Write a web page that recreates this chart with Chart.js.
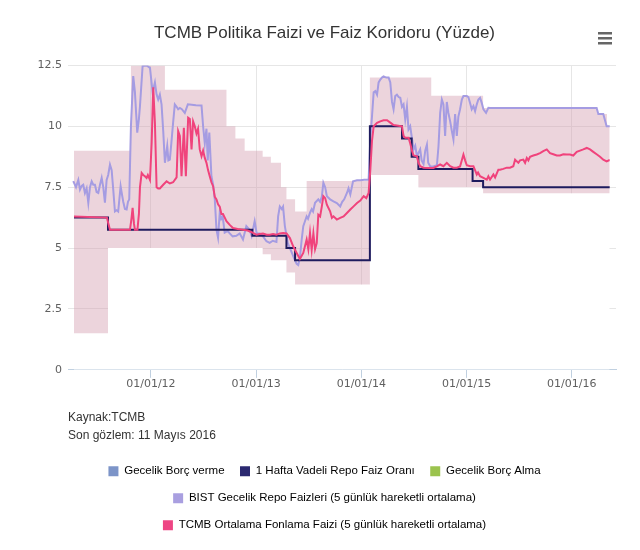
<!DOCTYPE html>
<html>
<head>
<meta charset="utf-8">
<script src="https://cdn.jsdelivr.net/npm/chart.js@4.4.0/dist/chart.umd.min.js"></script>
<style>
  html, body { margin:0; padding:0; background:#fff; }
</style>
</head>
<body>
<canvas id="faizChart" width="640" height="550"></canvas>
<script>
// tarihler ondalik yil olarak (2012.0 = 01/01/12)
const yearTicks = [2012, 2013, 2014, 2015, 2016];
const yTicks = [0, 2.5, 5, 7.5, 10, 12.5];

// Gecelik borc verme (koridor ust bandi) - degisim tarihleri
const borcVermeDates = [2011.269, 2011.810, 2012.133, 2012.718, 2012.803, 2012.891, 2013.062, 2013.140, 2013.236, 2013.288, 2013.370, 2013.480, 2014.081, 2014.664, 2015.157, 2016.239, 2016.334, 2016.360];
const borcVermeValues = [9, 12.5, 11.5, 10, 9.5, 9, 8.75, 8.5, 7.5, 7, 6.5, 7.75, 12, 11.25, 10.75, 10.5, 10, 10];

// 1 hafta vadeli repo (politika faizi)
const repoDates = [2011.269, 2011.592, 2012.964, 2013.288, 2013.370, 2014.081, 2014.386, 2014.478, 2014.542, 2015.057, 2015.157, 2016.360];
const repoValues = [6.25, 5.75, 5.5, 5, 4.5, 10, 9.5, 8.75, 8.25, 7.75, 7.5, 7.5];

// Gecelik borc alma (koridor alt bandi)
const borcAlmaDates = [2011.269, 2011.592, 2013.062, 2013.140, 2013.288, 2013.370, 2014.081, 2014.542, 2015.157, 2016.360];
const borcAlmaValues = [1.5, 5, 4.75, 4.5, 4, 3.5, 8, 7.5, 7.25, 7.25];

// BIST gecelik repo (5 gunluk ort.)
const bistDates = [2011.262, 2011.288, 2011.310, 2011.326, 2011.342, 2011.357, 2011.373, 2011.389, 2011.405, 2011.421, 2011.437, 2011.452, 2011.468, 2011.484, 2011.500, 2011.516, 2011.532, 2011.547, 2011.563, 2011.579, 2011.594, 2011.611, 2011.627, 2011.642, 2011.658, 2011.674, 2011.689, 2011.712, 2011.725, 2011.737, 2011.753, 2011.769, 2011.782, 2011.794, 2011.810, 2011.832, 2011.848, 2011.860, 2011.870, 2011.886, 2011.896, 2011.921, 2011.959, 2011.991,
  2012.016, 2012.038, 2012.054, 2012.069, 2012.085, 2012.101, 2012.117, 2012.133, 2012.155, 2012.166, 2012.180, 2012.194, 2012.211, 2012.227, 2012.244, 2012.259, 2012.275, 2012.294, 2012.322, 2012.351, 2012.389, 2012.427, 2012.481, 2012.496, 2012.512, 2012.528, 2012.540, 2012.555, 2012.575, 2012.591, 2012.607, 2012.623, 2012.638, 2012.654, 2012.668, 2012.682, 2012.701, 2012.730, 2012.749, 2012.777, 2012.812, 2012.844, 2012.875, 2012.907, 2012.938, 2012.957, 2012.986,
  2013.005, 2013.033, 2013.062, 2013.098, 2013.129, 2013.158, 2013.193, 2013.209, 2013.225, 2013.244, 2013.256, 2013.273, 2013.289, 2013.301, 2013.321, 2013.340, 2013.359, 2013.385, 2013.400, 2013.416, 2013.433, 2013.448, 2013.464, 2013.480, 2013.493, 2013.512, 2013.528, 2013.541, 2013.560, 2013.591, 2013.608, 2013.624, 2013.639, 2013.656, 2013.672, 2013.703, 2013.735, 2013.767, 2013.799, 2013.818, 2013.837, 2013.863, 2013.878, 2013.895, 2013.921, 2013.959, 2013.990,
  2014.028, 2014.069, 2014.085, 2014.101, 2014.117, 2014.133, 2014.149, 2014.164, 2014.180, 2014.196, 2014.211, 2014.237, 2014.259, 2014.275, 2014.291, 2014.306, 2014.322, 2014.338, 2014.354, 2014.370, 2014.386, 2014.401, 2014.417, 2014.433, 2014.448, 2014.464, 2014.481, 2014.496, 2014.512, 2014.528, 2014.543, 2014.559, 2014.573, 2014.591, 2014.607, 2014.623, 2014.635, 2014.654, 2014.685, 2014.718, 2014.733, 2014.749, 2014.765, 2014.780, 2014.796, 2014.812, 2014.827, 2014.844, 2014.860, 2014.875, 2014.891, 2014.907, 2014.922, 2014.938, 2014.955, 2014.970,
  2015.002, 2015.017, 2015.033, 2015.049, 2015.065, 2015.081, 2015.097, 2015.112, 2015.128, 2015.144, 2015.160, 2015.185, 2015.207, 2015.223, 2016.236, 2016.252, 2016.299, 2016.331, 2016.360];
const bistValues = [7.75, 7.5, 7.8, 7.4, 7.55, 7.6, 7.26, 7.45, 6.85, 7.5, 7.74, 7.6, 7.6, 7.3, 7.26, 7.6, 7.88, 7.5, 6.86, 7.8, 8.0, 8.43, 8.2, 7.4, 6.5, 6.55, 6.5, 7.54, 7.2, 6.9, 6.6, 6.58, 6.9, 7.0, 10.0, 12.06, 11.4, 10.5, 9.74, 10.3, 10.83, 12.47, 12.5, 12.4,
  11.4, 11.8, 11.3, 11.1, 11.3, 10.9, 9.8, 8.5, 9.2, 8.6, 8.63, 9.3, 10.15, 10.9, 10.8, 10.7, 10.75, 10.7, 10.55, 10.9, 10.88, 10.86, 10.85, 10.0, 9.3, 9.9, 8.6, 9.74, 7.95, 7.6, 7.0, 5.76, 5.43, 6.45, 6.2, 6.3, 5.63, 5.7, 5.6, 5.48, 5.5, 5.6, 5.35, 5.9, 5.75, 5.5, 6.1,
  5.6, 5.6, 5.5, 5.28, 5.21, 5.3, 5.25, 6.3, 6.71, 6.6, 6.7, 5.9, 5.5, 5.2, 5.0, 4.8, 4.6, 4.35, 4.3, 4.6, 5.35, 5.9, 6.1, 6.3, 6.2, 6.45, 6.6, 6.5, 6.86, 7.0, 6.9, 7.1, 7.68, 7.5, 7.13, 7.0, 6.92, 6.85, 6.71, 6.9, 7.0, 7.26, 7.45, 7.2, 7.74, 7.78, 7.78,
  7.8, 7.8, 9.5, 10.4, 11.4, 11.45, 11.3, 11.8, 11.92, 12.0, 12.05, 12.0, 12.0, 11.8, 11.0, 10.7, 11.24, 11.3, 11.2, 11.17, 10.8, 10.9, 10.28, 10.8, 9.87, 10.0, 9.5, 9.05, 9.2, 8.77, 8.9, 9.05, 8.6, 8.45, 9.0, 9.25, 8.5, 8.36, 8.35, 8.4, 9.18, 10.55, 11.1, 10.9, 9.6, 11.0, 10.55, 10.2, 9.8, 9.46, 10.5, 9.6, 10.4, 10.7, 11.1, 11.24,
  11.24, 11.2, 10.96, 10.7, 10.83, 10.62, 10.9, 11.1, 11.17, 10.96, 10.7, 10.55, 10.76, 10.75, 10.75, 10.5, 10.5, 10.0, 10.0];

// TCMB ortalama fonlama faizi (5 gunluk ort.)
const fonlamaDates = [2011.269, 2011.582, 2011.596, 2011.611, 2011.801, 2011.815, 2011.826, 2011.839, 2011.848, 2011.872, 2011.886, 2011.896, 2011.912, 2011.927, 2011.943, 2011.959, 2011.971, 2011.991,
  2012.007, 2012.022, 2012.038, 2012.054, 2012.069, 2012.085, 2012.117, 2012.149, 2012.180, 2012.211, 2012.244, 2012.259, 2012.275, 2012.291, 2012.313, 2012.332, 2012.354, 2012.370, 2012.386, 2012.401, 2012.417, 2012.433, 2012.448, 2012.464, 2012.481, 2012.496, 2012.512, 2012.528, 2012.543, 2012.559, 2012.575, 2012.591, 2012.607, 2012.623, 2012.638, 2012.654, 2012.670, 2012.685, 2012.718, 2012.749, 2012.780, 2012.825, 2012.875, 2012.919, 2012.957,
  2013.002, 2013.033, 2013.065, 2013.100, 2013.129, 2013.161, 2013.193, 2013.225, 2013.256, 2013.289, 2013.321, 2013.352, 2013.385, 2013.416, 2013.448, 2013.480, 2013.496, 2013.512, 2013.528, 2013.544, 2013.560, 2013.576, 2013.591, 2013.608, 2013.624, 2013.639, 2013.656, 2013.672, 2013.703, 2013.720, 2013.735, 2013.767, 2013.799, 2013.831, 2013.863, 2013.895, 2013.926, 2013.959, 2013.990,
  2014.022, 2014.047, 2014.069, 2014.085, 2014.101, 2014.117, 2014.149, 2014.180, 2014.211, 2014.244, 2014.275, 2014.306, 2014.351, 2014.386, 2014.401, 2014.417, 2014.448, 2014.464, 2014.481, 2014.496, 2014.528, 2014.543, 2014.559, 2014.591, 2014.654, 2014.685, 2014.718, 2014.749, 2014.780, 2014.812, 2014.844, 2014.875, 2014.907, 2014.938, 2014.970, 2014.986,
  2015.002, 2015.033, 2015.065, 2015.097, 2015.109, 2015.128, 2015.160, 2015.192, 2015.207, 2015.223, 2015.255, 2015.271, 2015.302, 2015.318, 2015.349, 2015.382, 2015.413, 2015.444, 2015.461, 2015.477, 2015.492, 2015.508, 2015.539, 2015.556, 2015.572, 2015.587, 2015.603, 2015.634, 2015.667, 2015.698, 2015.729, 2015.762, 2015.793, 2015.824, 2015.857, 2015.888, 2015.919, 2015.952, 2015.983,
  2016.014, 2016.047, 2016.078, 2016.109, 2016.142, 2016.173, 2016.204, 2016.236, 2016.268, 2016.299, 2016.331, 2016.353, 2016.360];
const fonlamaValues = [6.3, 6.25, 6.0, 5.75, 5.75, 6.2, 6.65, 6.0, 5.75, 5.75, 6.4, 7.5, 8.08, 8.0, 7.95, 7.88, 8.0, 7.8,
  9.32, 11.6, 10.14, 7.5, 7.45, 7.45, 7.6, 7.74, 7.65, 7.7, 7.9, 9.8, 9.6, 7.95, 9.94, 7.95, 10.35, 10.3, 9.05, 10.2, 10.0, 9.7, 9.9, 9.05, 8.77, 9.0, 8.7, 8.5, 8.2, 7.95, 7.7, 7.54, 7.1, 7.0, 6.8, 6.7, 6.4, 6.4, 6.1, 5.95, 5.82, 5.78, 5.75, 5.72, 5.65,
  5.55, 5.58, 5.6, 5.55, 5.55, 5.58, 5.55, 5.6, 5.62, 5.6, 5.41, 5.07, 4.8, 4.55, 4.8, 5.35, 4.95, 5.62, 4.93, 5.6, 4.95, 5.2, 6.37, 6.3, 6.7, 7.13, 7.05, 6.78, 6.51, 6.24, 6.3, 6.17, 6.24, 6.3, 6.44, 6.58, 6.71, 6.85, 6.95,
  7.13, 7.05, 7.26, 8.2, 9.4, 10.0, 10.14, 10.2, 10.25, 10.25, 10.15, 10.05, 10.02, 10.0, 9.6, 9.53, 9.53, 9.3, 9.0, 8.8, 8.77, 8.5, 8.36, 8.3, 8.29, 8.29, 8.35, 8.43, 8.36, 8.5, 8.36, 8.3, 8.3, 8.35, 8.84, 8.6,
  8.4, 8.36, 8.36, 8.02, 8.1, 7.95, 7.88, 7.81, 7.95, 7.81, 8.02, 7.9, 8.22, 8.22, 8.25, 8.3, 8.3, 8.36, 8.63, 8.56, 8.5, 8.6, 8.63, 8.5, 8.7, 8.6, 8.75, 8.8, 8.84, 8.9, 8.98, 9.05, 8.9, 8.85, 8.8, 8.8, 8.85, 8.84, 8.84,
  8.8, 8.95, 9.0, 9.05, 9.11, 9.05, 8.95, 8.85, 8.75, 8.63, 8.56, 8.6, 8.6];

const seriesNames = ['Gecelik Borç verme', '1 Hafta Vadeli Repo Faiz Oranı', 'Gecelik Borç Alma',
  'BIST Gecelik Repo Faizleri (5 günlük hareketli ortalama)', 'TCMB Ortalama Fonlama Faizi (5 günlük hareketli ortalama)'];
const legendColors = ['#7C94C8', '#2B2970', '#9BC34E', '#A99FE0', '#EE4584'];

function pts(dates, values) {
  return dates.map((d, i) => ({ x: d, y: values[i] }));
}

const bandColor = 'rgba(212,160,178,0.45)';
const sansFont = "'Liberation Sans', Arial, sans-serif";
const axisFont = "'DejaVu Sans', Verdana, sans-serif";

const menuIcon = {
  id: 'menuIcon',
  afterDraw(chart) {
    const ctx = chart.ctx;
    ctx.save();
    ctx.fillStyle = '#666';
    [0, 5, 10].forEach(dy => ctx.fillRect(chart.width - 42, 32 + dy, 14, 2.5));
    ctx.restore();
  }
};

new Chart(document.getElementById('faizChart'), {
  type: 'line',
  data: {
    datasets: [
      { label: seriesNames[0], data: pts(borcVermeDates, borcVermeValues), stepped: true,
        borderWidth: 0, borderColor: 'rgba(0,0,0,0)', backgroundColor: bandColor,
        fill: { target: 2, above: bandColor, below: bandColor }, order: 4 },
      { label: seriesNames[1], data: pts(repoDates, repoValues), stepped: true,
        borderWidth: 2, borderColor: '#1E1B5E', fill: false, order: 1 },
      { label: seriesNames[2], data: pts(borcAlmaDates, borcAlmaValues), stepped: true,
        borderWidth: 0, borderColor: 'rgba(0,0,0,0)', backgroundColor: '#ffffff',
        fill: { target: 'origin', above: '#ffffff', below: '#ffffff' }, order: 5 },
      { label: seriesNames[3], data: pts(bistDates, bistValues),
        borderWidth: 2, borderColor: '#A59CE2', fill: false, order: 2 },
      { label: seriesNames[4], data: pts(fonlamaDates, fonlamaValues),
        borderWidth: 2, borderColor: '#F0437C', fill: false, order: 0 }
    ]
  },
  options: {
    responsive: false,
    animation: false,
    elements: { point: { radius: 0, hoverRadius: 0 }, line: { tension: 0 } },
    layout: { padding: { left: 33, right: 24, top: 0, bottom: 9 } },
    scales: {
      x: {
        type: 'linear', min: 2011.212, max: 2016.42,
        afterBuildTicks: s => { s.ticks = yearTicks.map(v => ({ value: v })); },
        ticks: { callback: v => '01/01/' + String(v).slice(2), font: { family: axisFont, size: 11 },
          color: '#606060', padding: 0, maxRotation: 0, autoSkip: false },
        grid: { color: '#e6e6e6', tickColor: '#C0D0E0', tickLength: 8 },
        border: { color: '#C0D0E0', width: 1 }
      },
      y: {
        min: 0, max: 12.5,
        afterBuildTicks: s => { s.ticks = yTicks.map(v => ({ value: v })); },
        afterFit: s => { s.width = 35; },
        ticks: { callback: v => String(v), font: { family: axisFont, size: 11 }, color: '#606060', padding: 6 },
        grid: { color: '#e6e6e6', drawTicks: false },
        border: { display: false }
      }
    },
    plugins: {
      filler: { drawTime: 'beforeDatasetsDraw' },
      tooltip: { enabled: false },
      title: {
        display: true, text: 'TCMB Politika Faizi ve Faiz Koridoru (Yüzde)',
        font: { family: sansFont, size: 17, weight: 'normal' }, color: '#333',
        padding: { top: 23, bottom: 22 }
      },
      subtitle: {
        display: true, position: 'bottom', align: 'start', fullSize: false,
        text: ['Kaynak:TCMB', 'Son gözlem: 11 Mayıs 2016'],
        font: { family: sansFont, size: 12, lineHeight: 1.5 }, color: '#333',
        padding: { top: 18, bottom: 5 }
      },
      legend: {
        position: 'bottom', weight: 3000,
        labels: {
          boxWidth: 10, boxHeight: 10, padding: 15.5, color: '#333',
          font: { family: sansFont, size: 11.5 },
          generateLabels: chart => chart.data.datasets.map((ds, i) => ({
            text: ds.label, fillStyle: legendColors[i], strokeStyle: legendColors[i], lineWidth: 0,
            hidden: !chart.isDatasetVisible(i), datasetIndex: i
          }))
        }
      }
    }
  },
  plugins: [menuIcon]
});
</script>
</body>
</html>
